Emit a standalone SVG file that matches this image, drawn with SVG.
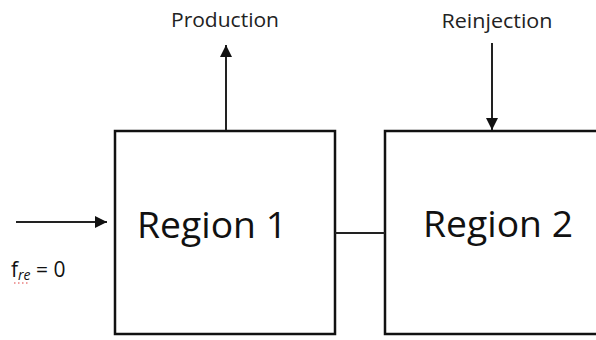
<svg xmlns="http://www.w3.org/2000/svg" width="596" height="340" viewBox="0 0 596 340">
<defs>
<style>
.box{fill:#fff;stroke:#111;stroke-width:2.5}
.lbl{font-family:"Open Sans","Liberation Sans",sans-serif;fill:#111}
.big{font-size:37px}
.small{font-size:19.5px;fill:#222}
.conn{stroke:#222;stroke-width:2;fill:none}
</style>
<marker id="ah" viewBox="0 0 10 10" refX="10" refY="5" markerWidth="6" markerHeight="6" orient="auto" markerUnits="strokeWidth">
<path d="M0,0 L10,5 L0,10 Z" fill="#111"/>
</marker>
</defs>
<rect width="596" height="340" fill="#fff"/>
<g id="region1">
<rect class="box" x="115" y="131" width="220" height="203"/>
<text class="lbl big" x="212" y="238" text-anchor="middle" textLength="150" lengthAdjust="spacingAndGlyphs">Region 1</text>
</g>
<g id="region2">
<rect class="box" x="385" y="131" width="230" height="203"/>
<text class="lbl big" x="498" y="237" text-anchor="middle" textLength="150" lengthAdjust="spacingAndGlyphs">Region 2</text>
</g>
<g id="production">
<text class="lbl small" x="225" y="27" text-anchor="middle" textLength="108" lengthAdjust="spacingAndGlyphs">Production</text>
</g>
<g id="reinjection">
<text class="lbl small" x="497" y="28" text-anchor="middle" textLength="111" lengthAdjust="spacingAndGlyphs">Reinjection</text>
</g>
<g id="inflow">
<text class="lbl" x="11" y="277" font-size="21" fill="#222">f<tspan font-size="14" font-style="italic" dy="3">re</tspan><tspan dy="-3"> = 0</tspan></text>
<path d="M14,283 h16" stroke="#e04040" stroke-width="1.2" stroke-dasharray="1.5,2.5"/>
</g>
<g id="connectors">
<line class="conn" x1="226" y1="130" x2="226" y2="45" marker-end="url(#ah)"/>
<line class="conn" x1="492" y1="43" x2="492" y2="130" marker-end="url(#ah)"/>
<line class="conn" x1="16" y1="222" x2="107" y2="222" marker-end="url(#ah)"/>
<line class="conn" x1="335" y1="233" x2="385" y2="233"/>
</g>
</svg>
